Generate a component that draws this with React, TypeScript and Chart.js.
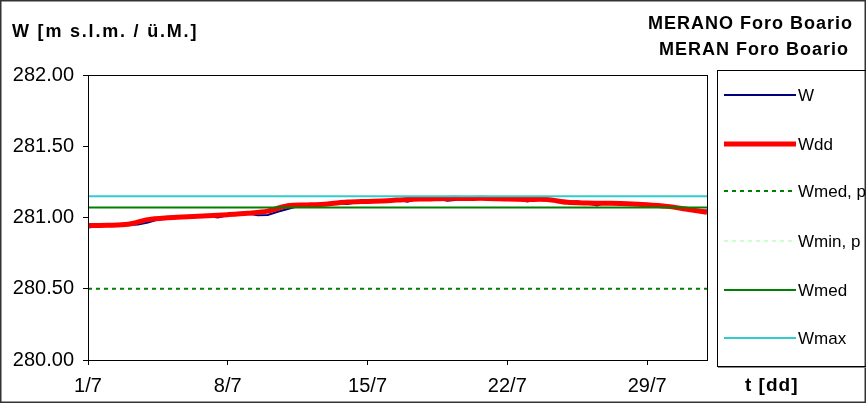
import React, { useEffect, useRef } from "react";
import { Chart, registerables } from "chart.js";

Chart.register(...registerables);

// ---- data ----
const yTitle = "W [m s.l.m. / ü.M.]";
const stationTitle = ["MERANO Foro Boario", "MERAN Foro Boario"];
const xTitle = "t [dd]";
const xTickValues = [0, 7, 14, 21, 28];
const xTickLabels = ["1/7", "8/7", "15/7", "22/7", "29/7"];
const seriesNames = ["W", "Wdd", "Wmed, p", "Wmin, p", "Wmed", "Wmax"];

// W sampled every half day starting 1/7 00:00
const wValues = [
  280.93, 280.938, 280.943, 280.945, 280.948, 280.95, 280.965, 280.985,
  280.995, 281.0, 281.003, 281.006, 281.01, 281.0, 281.016, 281.022,
  281.028, 281.015, 281.018, 281.04, 281.06, 281.078, 281.087, 281.09,
  281.095, 281.1, 281.095, 281.108, 281.113, 281.118, 281.12, 281.124,
  281.11, 281.13, 281.13, 281.132, 281.118, 281.125, 281.135, 281.136,
  281.135, 281.138, 281.142, 281.128, 281.112, 281.126, 281.127, 281.12,
  281.108, 281.114, 281.1, 281.085, 281.108, 281.098, 281.095, 281.09,
  281.085, 281.085, 281.08, 281.068, 281.06, 281.05, 281.05,
];
// Wdd daily values, days 1/7 .. 1/8
const wddValues = [
  280.943, 280.945, 280.952, 280.985, 280.998, 281.005, 281.012, 281.02,
  281.03, 281.045, 281.083, 281.088, 281.095, 281.108, 281.113, 281.118,
  281.127, 281.13, 281.134, 281.134, 281.134, 281.13, 281.127, 281.126,
  281.107, 281.102, 281.1, 281.097, 281.09, 281.078, 281.058, 281.036,
];
const wmedPValue = 280.5;
const wminPValue = 279.8;
const wmedValue = 281.07;
const wmaxValue = 281.15;

const FONT = "'Liberation Sans', Arial, Helvetica, sans-serif";

const colors = ["#000080", "#ff0000", "#008000", "#ccffcc", "#008000", "#33cccc"];
const widths = [2, 5, 2, 2, 2, 2];
const dashes: number[][] = [[], [], [4, 4], [4, 4], [], []];

function hline(v: number) {
  return [
    { x: 0, y: v },
    { x: 31, y: v },
  ];
}

const framePlugin = {
  id: "framePlugin",
  beforeDraw(chart: any) {
    const { ctx, width, height } = chart;
    ctx.save();
    ctx.fillStyle = "#fff";
    ctx.fillRect(0, 0, width, height);
    ctx.restore();
  },
  afterDraw(chart: any) {
    const { ctx, chartArea: a, width, height } = chart;
    ctx.save();
    // plot frame
    ctx.strokeStyle = "#000";
    ctx.lineWidth = 1;
    ctx.strokeRect(Math.round(a.left) + 0.5, Math.round(a.top) + 0.5, Math.round(a.right - a.left), Math.round(a.bottom - a.top));
    // outer frame
    ctx.strokeStyle = "#333";
    ctx.lineWidth = 1.5;
    ctx.strokeRect(0.75, 0.75, width - 1.5, height - 1.5);

    // titles
    ctx.fillStyle = "#000";
    ctx.textBaseline = "middle";
    ctx.font = `bold 18px ${FONT}`;
    (ctx as any).letterSpacing = "1.8px";
    ctx.textAlign = "left";
    ctx.fillText(yTitle, 12, 32);
    (ctx as any).letterSpacing = "1px";
    ctx.textAlign = "right";
    ctx.fillText(stationTitle[0], 853, 24);
    ctx.fillText(stationTitle[1], 849, 50);
    (ctx as any).letterSpacing = "1px";
    ctx.textAlign = "left";
    ctx.font = `bold 19px ${FONT}`;
    ctx.fillText(xTitle, 745, 386);
    (ctx as any).letterSpacing = "0px";

    // legend
    ctx.strokeStyle = "#000";
    ctx.lineWidth = 1;
    ctx.strokeRect(717.5, 70.5, 200, 296);
    ctx.strokeStyle = "#888";
    ctx.beginPath();
    ctx.moveTo(718, 367.5);
    ctx.lineTo(866, 367.5);
    ctx.stroke();
    const ys = [95, 144, 191, 241, 290, 338];
    ctx.font = `17px ${FONT}`;
    ctx.textAlign = "left";
    ctx.textBaseline = "middle";
    seriesNames.forEach((name, i) => {
      ctx.save();
      ctx.strokeStyle = colors[i];
      ctx.lineWidth = widths[i];
      ctx.setLineDash(dashes[i]);
      ctx.beginPath();
      ctx.moveTo(724, ys[i]);
      ctx.lineTo(796, ys[i]);
      ctx.stroke();
      ctx.restore();
      ctx.fillStyle = "#000";
      ctx.fillText(name, 798, ys[i] + 1);
    });
    ctx.restore();
  },
};

export default function App() {
  const ref = useRef<HTMLCanvasElement | null>(null);
  useEffect(() => {
    document.body.style.margin = "0";
    const canvas = ref.current;
    if (!canvas) return;
    const wData = wValues.map((v, i) => ({ x: i / 2, y: v }));
    const wddData = wddValues.map((v, i) => ({ x: i, y: v }));
    const lineData = [wData, wddData, hline(wmedPValue), hline(wminPValue), hline(wmedValue), hline(wmaxValue)];
    const chart = new Chart(canvas, {
      type: "line",
      data: {
        datasets: seriesNames.map((name, i) => ({
          label: name,
          data: lineData[i],
          borderColor: colors[i],
          backgroundColor: colors[i],
          borderWidth: widths[i],
          borderDash: dashes[i],
          pointRadius: 0,
          tension: i === 1 ? 0.3 : 0,
          fill: false,
          order: 6 - i,
        })),
      },
      options: {
        responsive: false,
        animation: false,
        devicePixelRatio: 1,
        layout: { padding: { left: 0, right: 159, top: 75, bottom: 0 } },
        plugins: { legend: { display: false }, tooltip: { enabled: false }, title: { display: false } },
        scales: {
          x: {
            type: "linear",
            min: 0,
            max: 31,
            afterBuildTicks: (s: any) => {
              s.ticks = xTickValues.map((v) => ({ value: v }));
            },
            afterFit: (s: any) => {
              s.height = 43;
            },
            ticks: {
              autoSkip: false,
              maxRotation: 0,
              padding: 9,
              color: "#000",
              font: { family: FONT, size: 20 },
              callback: (_v: any, i: number) => xTickLabels[i],
            },
            grid: { drawOnChartArea: false, drawTicks: true, tickLength: 5, color: "#000" },
            border: { display: true, color: "#000", width: 1 },
          },
          y: {
            type: "linear",
            min: 280,
            max: 282,
            afterFit: (s: any) => {
              s.width = 88;
            },
            ticks: {
              stepSize: 0.5,
              padding: 9,
              color: "#000",
              font: { family: FONT, size: 20 },
              callback: (v: any) => Number(v).toFixed(2),
            },
            grid: { drawOnChartArea: false, drawTicks: true, tickLength: 5, color: "#000" },
            border: { display: true, color: "#000", width: 1 },
          },
        },
      },
      plugins: [framePlugin],
    } as any);
    return () => chart.destroy();
  }, []);
  return <canvas ref={ref} width={866} height={403} style={{ display: "block" }} />;
}
